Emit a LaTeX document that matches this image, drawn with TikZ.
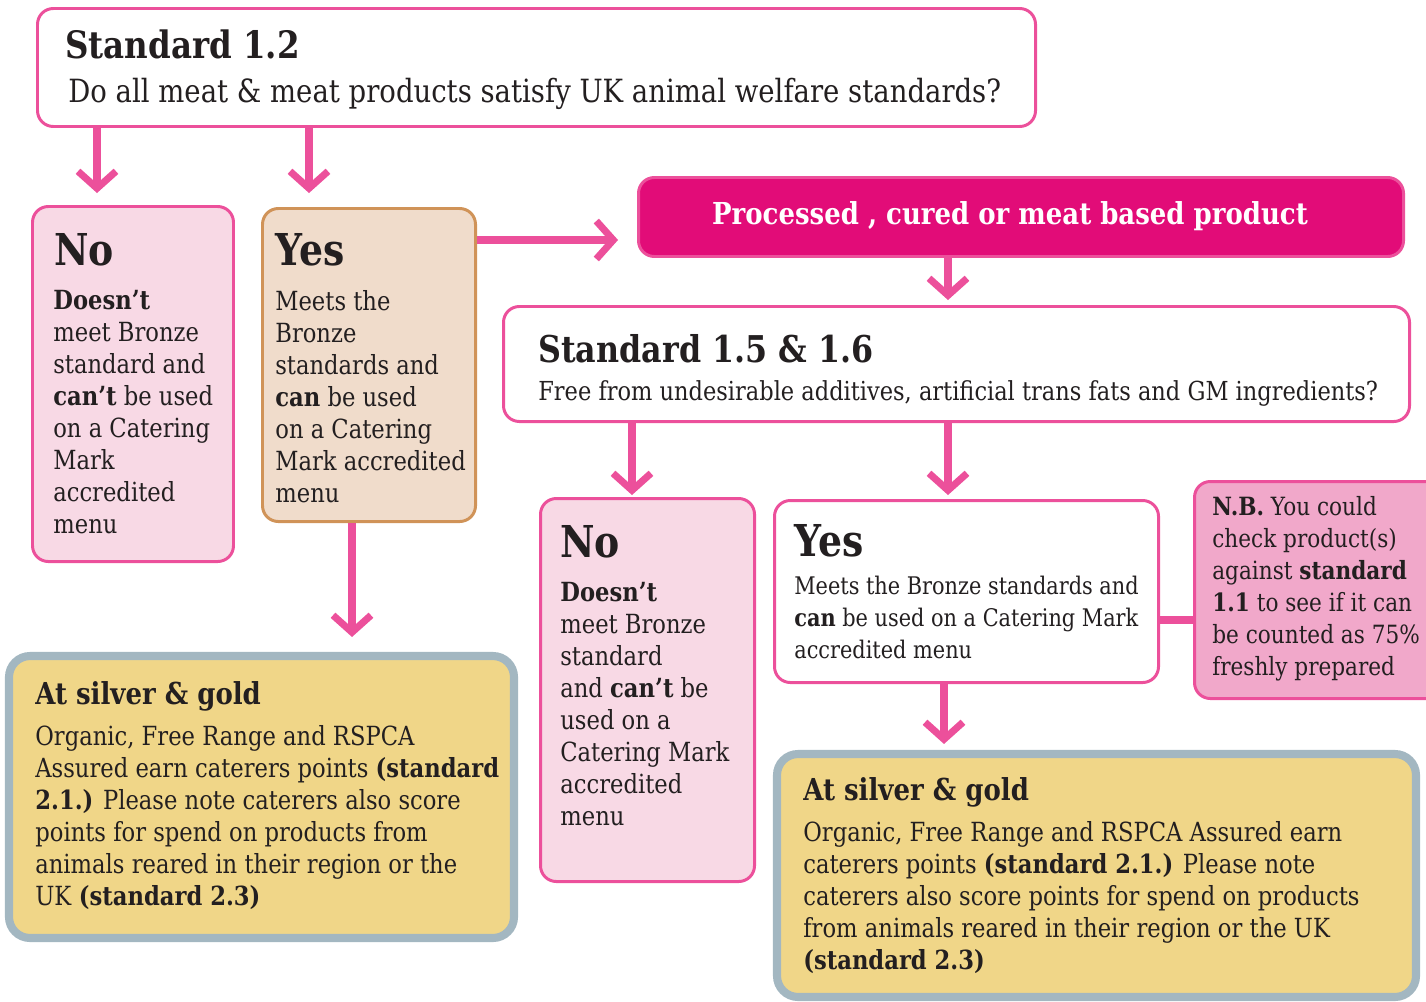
\documentclass[tikz,border=0pt]{standalone}
\usepackage{fontspec}
\setmainfont{DejaVu Serif}[FakeStretch=0.86]
\usetikzlibrary{arrows.meta,positioning,fit}
\definecolor{flowpink}{RGB}{236,80,155}
\definecolor{nopink}{RGB}{248,217,229}
\definecolor{yestan}{RGB}{240,220,203}
\definecolor{tanline}{RGB}{208,147,88}
\definecolor{procpink}{RGB}{226,12,120}
\definecolor{nbpink}{RGB}{241,168,202}
\definecolor{goldfill}{RGB}{240,214,136}
\definecolor{greyline}{RGB}{163,183,193}
\definecolor{ink}{RGB}{35,31,32}
\tikzset{%
  box/.style={draw=flowpink,line width=1.7pt,rounded corners=9pt,inner sep=0pt,fill=white},
  nobox/.style={box,fill=nopink},
  yesbox/.style={box,draw=tanline,fill=yestan},
  procbox/.style={box,fill=procpink},
  nbbox/.style={box,fill=nbpink},
  goldbox/.style={box,draw=greyline,line width=4.6pt,fill=goldfill,rounded corners=12pt},
  flow/.style={draw=flowpink,line width=4pt,-{Straight Barb[length=3.4mm,width=7.6mm]}},
  body/.style={anchor=north west,inner sep=0pt,align=left,text=ink,font=\fontsize{15}{18.2}\selectfont},
  small/.style={body,font=\fontsize{13.8}{18.2}\selectfont},
  head/.style={anchor=base west,inner sep=0pt,text=ink,font=\bfseries\fontsize{21.5}{24}\selectfont},
  answer/.style={head,font=\bfseries\fontsize{25}{28}\selectfont},
  sub/.style={head,font=\bfseries\fontsize{17.2}{20}\selectfont}
}
\begin{document}
\begin{tikzpicture}[x=0.02cm,y=-0.02cm]
  \useasboundingbox (0,0) rectangle (1426,1001);
  \clip (0,0) rectangle (1426,1001);

  % boxes
  \node (s12)[box,fit={(37.5,8.5) (1035.5,126.5)}]{};
  \node (no1)[nobox,fit={(32.5,206.5) (233.5,561.5)}]{};
  \node (yes1)[yesbox,fit={(262.5,208.5) (475.5,521.5)}]{};
  \node (proc)[procbox,fit={(638.5,177.5) (1403.5,256.5)}]{};
  \node (s156)[box,fit={(503.5,306.5) (1409.5,421.5)}]{};
  \node (no2)[nobox,fit={(540.5,498.5) (754.5,881.5)}]{};
  \node (yes2)[box,fit={(774.5,500.5) (1158.5,682.5)}]{};
  \node (nb)[nbbox,fit={(1194.5,481.5) (1445,698.5)}]{};
  \node (gold1)[goldbox,fit={(9,656) (514,938)}]{};
  \node (gold2)[goldbox,fit={(777,754) (1416,997)}]{};

  % texts
  \node (s12h)[head] at (65,58) {Standard 1.2};
  \node (s12q)[head,font=\fontsize{18.2}{20}\selectfont] at (68,102)
    {Do all meat \& meat products satisfy UK animal welfare standards?};
  \node (no1h)[answer] at (54,265) {No};
  \node (no1t)[body] at (53,290) {\textbf{Doesn’t}\\meet Bronze\\standard and\\\textbf{can’t} be used\\on a Catering\\Mark\\accredited\\menu};
  \node (yes1h)[answer] at (275,265) {Yes};
  \node (yes1t)[body] at (275,290) {Meets the\\Bronze\\standards and\\\textbf{can} be used\\on a Catering\\Mark accredited\\menu};
  \node (proct)[sub,anchor=center,text=white] at (1010,216) {Processed , cured or meat based product};
  \node (s156h)[head,font=\bfseries\fontsize{21}{24}\selectfont] at (538,362) {Standard 1.5 \& 1.6};
  \node (s156q)[head,font=\fontsize{14.9}{18}\selectfont] at (538,400)
    {Free from undesirable additives, artificial trans fats and GM ingredients?};
  \node (no2h)[answer] at (560,557) {No};
  \node (no2t)[body] at (560,582) {\textbf{Doesn’t}\\meet Bronze\\standard\\and \textbf{can’t} be\\used on a\\Catering Mark\\accredited\\menu};
  \node (yes2h)[answer] at (794,556) {Yes};
  \node (yes2t)[small] at (794,576) {Meets the Bronze standards and\\\textbf{can} be used on a Catering Mark\\accredited menu};
  \node (nbt)[body,font=\fontsize{14.3}{18.2}\selectfont] at (1212,496) {\textbf{N.B.} You could\\check product(s)\\against \textbf{standard}\\\textbf{1.1} to see if it can\\be counted as 75\%\\freshly prepared};
  \node (gold1h)[sub] at (35,704) {At silver \& gold};
  \node (gold1t)[body] at (35,725) {Organic, Free Range and RSPCA\\Assured earn caterers points \textbf{(standard}\\\textbf{2.1.)} Please note caterers also score\\points for spend on products from\\animals reared in their region or the\\UK \textbf{(standard 2.3)}};
  \node (gold2h)[sub] at (803,800) {At silver \& gold};
  \node (gold2t)[body] at (803,821) {Organic, Free Range and RSPCA Assured earn\\caterers points \textbf{(standard 2.1.)} Please note\\caterers also score points for spend on products\\from animals reared in their region or the UK\\\textbf{(standard 2.3)}};

  % connectors
  \coordinate (c1) at (97,0);
  \coordinate (c2) at (309,0);
  \coordinate (c3) at (0,240);
  \coordinate (c4) at (948,0);
  \coordinate (c5) at (632,0);
  \coordinate (c6) at (352,0);
  \coordinate (c7) at (944,0);
  \coordinate (c8) at (0,620);
  \draw[flow,shorten >=0.24cm] (s12.south -| c1) -- (no1.north -| c1);
  \draw[flow,shorten >=0.28cm] (s12.south -| c2) -- (yes1.north -| c2);
  \draw[flow,shorten >=0.38cm] (yes1.east |- c3) -- (proc.west |- c3);
  \draw[flow,shorten >=0.1cm] (proc.south -| c4) -- (s156.north -| c4);
  \draw[flow,shorten >=0.04cm] (s156.south -| c5) -- (no2.north -| c5);
  \draw[flow,shorten >=0.08cm] (s156.south -| c4) -- (yes2.north -| c4);
  \draw[flow,shorten >=0.3cm] (yes1.south -| c6) -- (gold1.north -| c6);
  \draw[flow,shorten >=0.12cm] (yes2.south -| c7) -- (gold2.north -| c7);
  \draw[draw=flowpink,line width=4pt] (yes2.east |- c8) -- (nb.west |- c8);
\end{tikzpicture}
\end{document}
